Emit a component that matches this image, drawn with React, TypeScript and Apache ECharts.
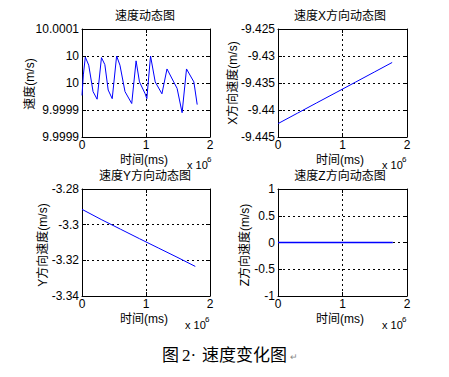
import React, { useEffect, useRef } from "react";
import * as echarts from "echarts";

// Panel 1: speed magnitude (m/s) vs time (ms)
const speedTime = [0, 21000, 52000, 105000, 173000, 236000, 304000, 357000, 409000, 472000, 541000, 593000, 672000, 777000, 845000, 898000, 987000, 1013000, 1071000, 1144000, 1249000, 1328000, 1433000, 1486000, 1564000, 1633000, 1748000, 1800000];
const speedValues = [9.999977, 10.000015, 10.000048, 10.000033, 9.999984, 9.99997, 10.000047, 10.000034, 9.999987, 9.999971, 10.00005, 10.000033, 9.999984, 9.999962, 10.000041, 10.000002, 9.99998, 9.999971, 10.00005, 10.000002, 9.99998, 10.000026, 10.000002, 9.99999, 9.999945, 10.000026, 10.000002, 9.99996];
const speedTickLabels = ["9.9999", "9.9999", "10", "10", "10.0001"];

// Panel 2: X-direction speed
const xTime = [0, 300000, 600000, 900000, 1200000, 1500000, 1770000];
const xSpeed = [-9.44252, -9.4406, -9.43868, -9.43677, -9.43485, -9.43293, -9.4312];

// Panel 3: Y-direction speed
const yTime = [0, 300000, 600000, 900000, 1200000, 1500000, 1770000];
const ySpeed = [-3.2914, -3.2971, -3.3025, -3.3079, -3.3132, -3.3185, -3.3234];

// Panel 4: Z-direction speed
const zTime = [0, 1780000];
const zSpeed = [0, 0];

const titles = ["速度动态图", "速度X方向动态图", "速度Y方向动态图", "速度Z方向动态图"];
const yNames = ["速度(m/s)", "X方向速度(m/s)", "Y方向速度(m/s)", "Z方向速度(m/s)"];
const xName = "时间(ms)";
const captionParts = ["图", "2·", "速度变化图"];

const FONT = "'Liberation Sans', Arial, 'Noto Sans CJK SC', sans-serif";
const SERIF = "'Liberation Serif', 'Noto Sans CJK SC', serif";

export default function App() {
  const ref = useRef<HTMLDivElement>(null);
  useEffect(() => {
    if (!ref.current) return;
    const chart = echarts.init(ref.current, null, { renderer: "svg" });

    const grids = [
      { left: 82, top: 29, width: 128, height: 108 },
      { left: 278, top: 29, width: 129, height: 108 },
      { left: 82, top: 189, width: 128, height: 107 },
      { left: 278, top: 189, width: 129, height: 107 },
    ];
    const yRanges = [
      { min: 9.9999, max: 10.0001, interval: 0.00005, fmt: (v: number) => speedTickLabels[Math.round((v - 9.9999) / 0.00005)] ?? "" },
      { min: -9.445, max: -9.425, interval: 0.005, fmt: (v: number) => String(+v.toFixed(4)) },
      { min: -3.34, max: -3.28, interval: 0.02, fmt: (v: number) => String(+v.toFixed(4)) },
      { min: -1, max: 1, interval: 0.5, fmt: (v: number) => String(+v.toFixed(4)) },
    ];
    const datasets = [
      [speedTime, speedValues],
      [xTime, xSpeed],
      [yTime, ySpeed],
      [zTime, zSpeed],
    ];

    const black = { color: "#000", width: 1 };
    const xAxes: any[] = [];
    const yAxes: any[] = [];
    const series: any[] = [];
    grids.forEach((g, i) => {
      xAxes.push({
        gridIndex: i, type: "value", min: 0, max: 2e6, interval: 1e6, position: "bottom",
        axisLine: { show: true, onZero: false, lineStyle: black },
        axisTick: { show: true, inside: true, length: 4, lineStyle: black },
        axisLabel: { formatter: (v: number) => String(v / 1e6), color: "#000", fontSize: 12, lineHeight: 12, fontFamily: FONT, margin: 2 },
        splitLine: { show: true, lineStyle: { color: "#000", width: 1, type: [2, 3] } },
      });
      xAxes.push({
        gridIndex: i, type: "value", min: 0, max: 2e6, interval: 1e6, position: "top",
        axisLine: { show: true, onZero: false, lineStyle: black },
        axisTick: { show: true, inside: true, length: 4, lineStyle: black },
        axisLabel: { show: false }, splitLine: { show: false },
      });
      const r = yRanges[i];
      yAxes.push({
        gridIndex: i, type: "value", min: r.min, max: r.max, interval: r.interval, position: "left",
        axisLine: { show: true, onZero: false, lineStyle: black },
        axisTick: { show: true, inside: true, length: 4, lineStyle: black },
        axisLabel: { formatter: r.fmt, color: "#000", fontSize: 12, fontFamily: FONT, margin: 3 },
        splitLine: { show: true, lineStyle: { color: "#000", width: 1, type: [2, 3] } },
      });
      yAxes.push({
        gridIndex: i, type: "value", min: r.min, max: r.max, interval: r.interval, position: "right",
        axisLine: { show: true, onZero: false, lineStyle: black },
        axisTick: { show: true, inside: true, length: 4, lineStyle: black },
        axisLabel: { show: false }, splitLine: { show: false },
      });
      const [xs, ys] = datasets[i];
      series.push({
        type: "line", xAxisIndex: 2 * i, yAxisIndex: 2 * i,
        data: xs.map((x, k) => [x, ys[k]]),
        showSymbol: false, symbol: "none",
        lineStyle: { color: "#0000ff", width: i === 3 ? 1.5 : 1 },
      });
    });

    const graphics: any[] = [];
    const titlePos = [[145, 16], [340, 16], [145, 176], [340, 176]];
    const yNamePos = [[30, 84], [233, 83], [43, 245], [245, 245]];
    const xNamePos = [[144, 160], [340, 160], [144, 319], [340, 319]];
    const expPos = [[187, 165], [382, 165], [185, 325], [382, 325]];
    for (let i = 0; i < 4; i++) {
      graphics.push({
        type: "text", x: titlePos[i][0], y: titlePos[i][1],
        style: { text: titles[i], fontSize: 12, fontFamily: FONT, fill: "#000", align: "center", verticalAlign: "middle" },
      });
      graphics.push({
        type: "text", x: yNamePos[i][0], y: yNamePos[i][1], rotation: Math.PI / 2,
        style: { text: yNames[i], fontSize: 12, fontFamily: FONT, fill: "#000", align: "center", verticalAlign: "middle" },
      });
      graphics.push({
        type: "text", x: xNamePos[i][0], y: xNamePos[i][1],
        style: { text: xName, fontSize: 12, fontFamily: FONT, fill: "#000", align: "center", verticalAlign: "middle" },
      });
      graphics.push({
        type: "text", x: expPos[i][0], y: expPos[i][1],
        style: { text: "x 10", fontSize: 11, fontFamily: FONT, fill: "#000", align: "left", verticalAlign: "middle" },
      });
      graphics.push({
        type: "text", x: expPos[i][0] + 20, y: expPos[i][1] - 6,
        style: { text: "6", fontSize: 8, fontFamily: FONT, fill: "#000", align: "left", verticalAlign: "middle" },
      });
    }
    const capX = [162, 182, 202];
    captionParts.forEach((t, k) => {
      graphics.push({
        type: "text", x: capX[k], y: 355,
        style: { text: t, fontSize: 17, fontFamily: SERIF, fill: "#000", align: "left", verticalAlign: "middle" },
      });
    });
    graphics.push({
      type: "text", x: 290, y: 357,
      style: { text: "↵", fontSize: 9, fontFamily: FONT, fill: "#888", align: "left", verticalAlign: "middle" },
    });

    chart.setOption({
      animation: false,
      backgroundColor: "#fff",
      grid: grids,
      xAxis: xAxes,
      yAxis: yAxes,
      series,
      graphic: graphics,
    });
    return () => chart.dispose();
  }, []);

  return (
    <div
      ref={ref}
      style={{ position: "fixed", left: 0, top: 0, width: 449, height: 377, background: "#fff" }}
    />
  );
}
